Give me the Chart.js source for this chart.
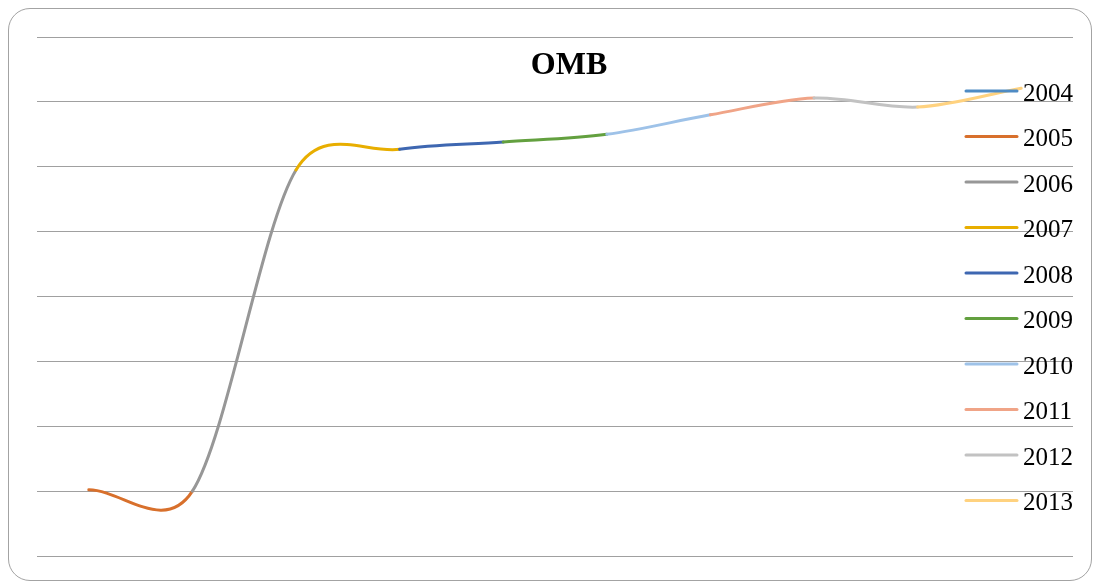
<!DOCTYPE html>
<html>
<head>
<meta charset="utf-8">
<script src="https://cdn.jsdelivr.net/npm/chart.js@4"></script>
<style>
  html, body { margin: 0; padding: 0; background: #fff; }
  #wrap { position: relative; width: 1093px; height: 582px; overflow: hidden; }
  #frame {
    position: absolute; left: 8px; top: 8px; width: 1084px; height: 573px;
    border: 1.5px solid #a3a3a3; border-radius: 22px; box-sizing: border-box;
  }
  #omb { position: absolute; left: 0; top: 0; }
</style>
</head>
<body>
<div id="wrap">
  <div id="frame"></div>
  <canvas id="omb" width="1093" height="582"></canvas>
</div>
<script>
const years = ['2004', '2005', '2006', '2007', '2008', '2009', '2010', '2011', '2012', '2013'];
const ombValues = [1.02, 1.0, 5.95, 6.27, 6.38, 6.5, 6.8, 7.06, 6.92, 7.21];
const yearColors = ['#4f8bc4', '#d8702c', '#979797', '#e8ae00', '#3e67b1',
                    '#63a03f', '#9ec2e8', '#f0a487', '#c2c2c2', '#ffd27f'];

// office-style smoothing: catmull-rom tangents (1/6, 1/3 at the ends),
// each handle capped at half the length of its segment
const smoothCurve = {
  id: 'smoothCurve',
  beforeDatasetDraw(chart, args) {
    const meta = args.meta;
    const line = meta.dataset;
    if (!line) return;
    line.updateControlPoints(chart.chartArea, 'x');
    const pts = meta.data;
    const n = pts.length;
    const dist = (a, b) => Math.hypot(b.x - a.x, b.y - a.y);
    for (let i = 0; i < n; i++) {
      const p = pts[i];
      const prev = pts[Math.max(i - 1, 0)];
      const next = pts[Math.min(i + 1, n - 1)];
      const tx = next.x - prev.x, ty = next.y - prev.y;
      const tl = Math.hypot(tx, ty) || 1;
      const base = (i === 0 || i === n - 1) ? 1 / 3 : 1 / 6;
      // handle towards the previous point
      let f = base;
      if (i > 0) f = Math.min(f, dist(prev, p) / 2 / tl);
      p.cp1x = p.x - f * tx;
      p.cp1y = p.y - f * ty;
      // handle towards the next point
      f = base;
      if (i < n - 1) f = Math.min(f, dist(p, next) / 2 / tl);
      p.cp2x = p.x + f * tx;
      p.cp2y = p.y + f * ty;
    }
  }
};

// title and legend sit over the plot area, so draw them by hand
const overlay = {
  id: 'overlay',
  afterDraw(chart) {
    const ctx = chart.ctx;
    ctx.save();
    ctx.fillStyle = '#000';
    ctx.font = 'bold 32px "Liberation Serif", "Times New Roman", serif';
    ctx.textAlign = 'center';
    ctx.textBaseline = 'middle';
    ctx.fillText('OMB', 569, 66);

    ctx.font = '25px "Liberation Serif", "Times New Roman", serif';
    ctx.textAlign = 'left';
    ctx.lineWidth = 3;
    ctx.lineCap = 'round';
    years.forEach((y, i) => {
      const rowY = 91 + i * 45.5;
      ctx.strokeStyle = yearColors[i];
      ctx.beginPath();
      ctx.moveTo(966, rowY);
      ctx.lineTo(1017, rowY);
      ctx.stroke();
      ctx.fillText(y, 1023, rowY + 3);
    });
    ctx.restore();
  }
};

new Chart(document.getElementById('omb'), {
  type: 'line',
  data: {
    labels: years,
    datasets: [{
      label: 'OMB',
      data: ombValues,
      borderWidth: 3,
      borderCapStyle: 'round',
      tension: 0.5,
      pointRadius: 0,
      pointHoverRadius: 0,
      segment: { borderColor: c => yearColors[c.p1DataIndex] }
    }]
  },
  options: {
    responsive: false,
    animation: false,
    layout: { padding: { left: 37, right: 20, top: 37, bottom: 26 } },
    plugins: { legend: { display: false }, title: { display: false }, tooltip: { enabled: false } },
    scales: {
      x: { type: 'category', offset: true, display: false },
      y: {
        min: 0, max: 8,
        ticks: { display: false, stepSize: 1 },
        border: { display: false },
        grid: { color: '#a0a0a0', lineWidth: 1, drawTicks: false }
      }
    }
  },
  plugins: [smoothCurve, overlay]
});
</script>
</body>
</html>
